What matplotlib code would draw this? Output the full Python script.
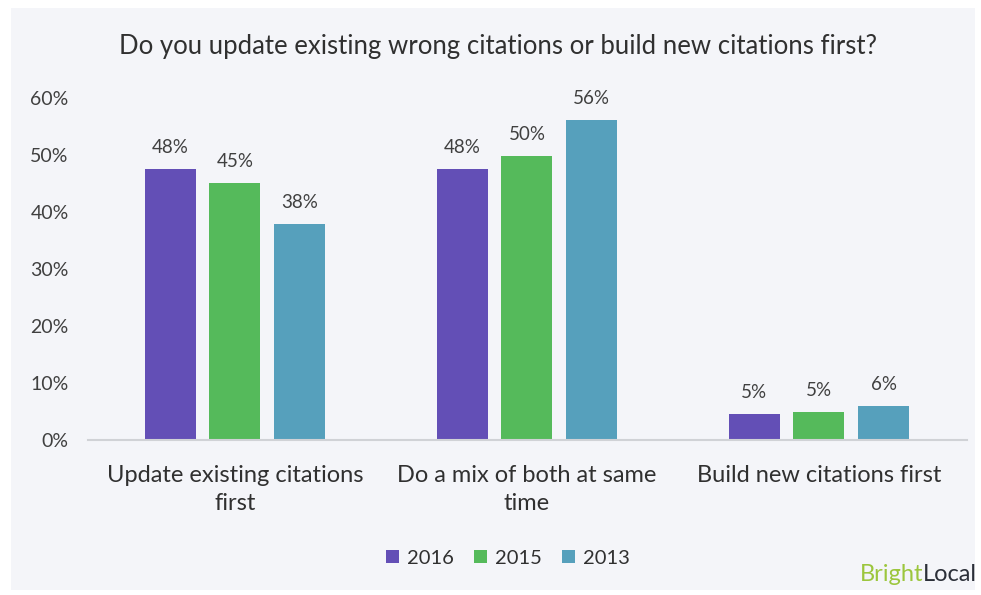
import matplotlib.pyplot as plt
from matplotlib.patches import Rectangle
import numpy as np

plt.rcParams['font.family'] = ['Lato', 'DejaVu Sans']

# Survey answers and the share per year
categories = ['Update existing citations\nfirst', 'Do a mix of both at same\ntime', 'Build new citations first']
years = ['2016', '2015', '2013']
share_2016 = [47.6, 47.6, 4.6]
share_2015 = [45.1, 49.8, 4.9]
share_2013 = [37.9, 56.1, 5.9]
colours = ['#634fb6', '#55ba5b', '#56a0bc']

bg = '#f4f5f9'
fig = plt.figure(figsize=(9.81, 5.95), dpi=100, facecolor='white')
# light panel behind the chart
fig.patches.append(Rectangle((0.011, 0.008), 0.983, 0.978, transform=fig.transFigure,
                             facecolor=bg, edgecolor='none', zorder=-1))
ax = fig.add_axes([0.0897, 0.2605, 0.896, 0.5745])
ax.set_facecolor(bg)

x = np.arange(len(categories))
width = 0.175
pitch = 0.222
for i, (vals, year) in enumerate(zip([share_2016, share_2015, share_2013], years)):
    pos = x + (i - 1) * pitch
    bars = ax.bar(pos, vals, width, color=colours[i], label=year)
    for b, v in zip(bars, vals):
        ax.text(b.get_x() + b.get_width() / 2, v + 2.3, '%d%%' % round(v),
                ha='center', va='bottom', fontsize=13.5, color='#404040', clip_on=False)

ax.set_xlim(-0.503, 2.507)
ax.set_ylim(0, 60)
ax.set_yticks([0, 10, 20, 30, 40, 50, 60])
ax.set_yticklabels(['%d%%' % t for t in [0, 10, 20, 30, 40, 50, 60]])
ax.set_xticks(x)
ax.set_xticklabels(categories, fontsize=17, color='#303030', linespacing=1.4)
ax.tick_params(axis='y', length=0, labelsize=14, labelcolor='#404040', pad=14)
ax.tick_params(axis='x', length=0, pad=18)
for s in ['top', 'right', 'left']:
    ax.spines[s].set_visible(False)
ax.spines['bottom'].set_color('#d0d2d6')
ax.spines['bottom'].set_linewidth(1.5)

fig.text(0.508, 0.922, 'Do you update existing wrong citations or build new citations first?',
         ha='center', va='center', fontsize=18.5, color='#303030')

fig.legend(loc='center', bbox_to_anchor=(0.518, 0.062), ncol=3, frameon=False,
           fontsize=14.5, handlelength=0.65, handleheight=0.65, handletextpad=0.4,
           columnspacing=1.0, labelcolor='#303030')

# watermark, right aligned
local = fig.text(0.996, 0.035, 'Local', ha='right', va='center', fontsize=17, color='#2b2f38')
fig.canvas.draw()
x0 = local.get_window_extent().x0 / fig.bbox.width
fig.text(x0, 0.035, 'Bright', ha='right', va='center', fontsize=17, color='#9cc63d')

fig.savefig('out.png', dpi=100, facecolor='white')
